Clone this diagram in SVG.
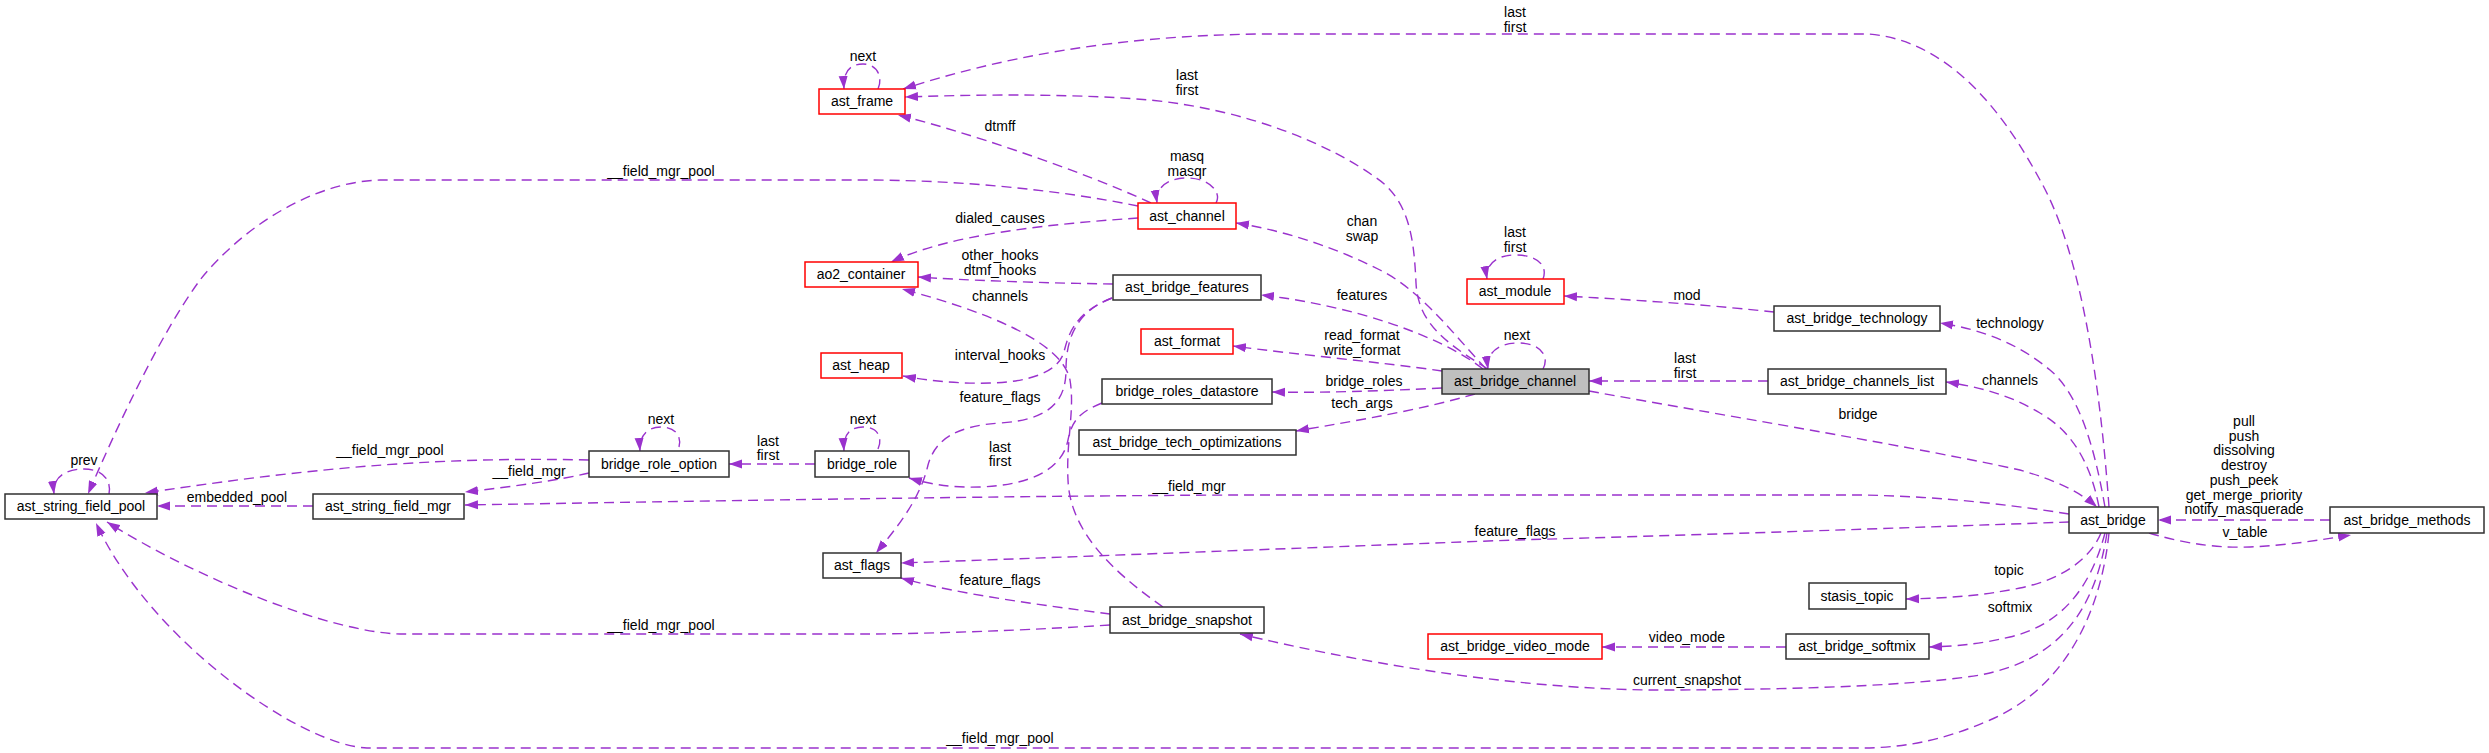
<svg xmlns="http://www.w3.org/2000/svg" width="2489" height="753" viewBox="0 0 2489 753">
<style>
text{font-family:"Liberation Sans",Arial,sans-serif;font-size:14px;fill:#000;text-anchor:middle}
.b{fill:#fff;stroke:#303030;stroke-width:1.5}
.r{fill:#fff;stroke:#ff0000;stroke-width:1.5}
.g{fill:#bfbfbf;stroke:#303030;stroke-width:1.5}
.e{fill:none;stroke:#9a32cd;stroke-width:1.4;stroke-dasharray:10,6;marker-end:url(#ah)}
</style>
<defs>
<marker id="ah" markerUnits="userSpaceOnUse" markerWidth="14" markerHeight="10" refX="13" refY="5" orient="auto">
<path d="M0,0.5 L13,5 L0,9.5 z" fill="#9a32cd" stroke="none"/>
</marker>
</defs>
<rect width="2489" height="753" fill="#fff"/>
<g id="connectors">
<path class="e" d="M878,89 C883,78 878,64 863,64 C848,64 843,74 844,89"/>
<text x="863" y="61">next</text>
<path class="e" d="M2109,507 C2100,380 2080,250 2040,180 C2005,115 1950,40 1868,34 L1260,34 C1110,36 1000,58 903,89"/>
<text x="1515" y="17">last</text><text x="1515" y="32">first</text>
<path class="e" d="M1488,369 C1440,340 1418,320 1416,283 C1414,240 1410,200 1375,177 C1330,145 1250,110 1150,100 C1080,94 990,94 905,97"/>
<text x="1187" y="80">last</text><text x="1187" y="95">first</text>
<path class="e" d="M1151,203 C1080,170 960,130 898,115"/>
<text x="1000" y="131">dtmff</text>
<path class="e" d="M1216,203 C1222,193 1210,178 1187,178 C1165,178 1155,190 1157,203"/>
<text x="1187" y="161">masq</text><text x="1187" y="176">masqr</text>
<path class="e" d="M1138,206 C1060,190 960,180 865,180 L380,180 C310,182 240,230 200,280 C160,335 120,420 88,494"/>
<text x="661" y="176">__field_mgr_pool</text>
<path class="e" d="M1138,218 C1050,224 950,234 891,262"/>
<text x="1000" y="223">dialed_causes</text>
<path class="e" d="M1113,284 C1040,283 960,280 918,277"/>
<text x="1000" y="260">other_hooks</text><text x="1000" y="275">dtmf_hooks</text>
<path class="e" d="M1163,607 C1110,570 1070,530 1068,480 C1066,440 1075,410 1070,380 C1062,340 980,310 902,289"/>
<text x="1000" y="301">channels</text>
<path class="e" d="M1112,298 C1075,312 1068,335 1064,352 C1058,372 1030,382 990,383 C960,384 930,381 903,376"/>
<text x="1000" y="360">interval_hooks</text>
<path class="e" d="M1112,298 C1075,312 1066,340 1066,370 C1066,405 1045,420 1000,423 C955,426 935,440 928,465 C920,500 895,530 876,553"/>
<text x="1000" y="402">feature_flags</text>
<path class="e" d="M1102,403 C1080,412 1072,420 1068,440 C1062,470 1030,485 980,487 C950,488 930,484 909,478"/>
<text x="1000" y="452">last</text><text x="1000" y="466">first</text>
<path class="e" d="M1483,369 C1440,335 1350,305 1261,295"/>
<text x="1362" y="300">features</text>
<path class="e" d="M1486,369 C1450,330 1420,290 1380,270 C1330,245 1280,230 1236,223"/>
<text x="1362" y="226">chan</text><text x="1362" y="241">swap</text>
<path class="e" d="M1442,371 C1380,362 1300,355 1233,346"/>
<text x="1362" y="340">read_format</text><text x="1362" y="355">write_format</text>
<path class="e" d="M1543,369 C1550,356 1540,343 1518,343 C1496,343 1486,355 1488,369"/>
<text x="1517" y="340">next</text>
<path class="e" d="M1543,279 C1548,266 1538,255 1515,255 C1494,255 1485,267 1487,279"/>
<text x="1515" y="237">last</text><text x="1515" y="252">first</text>
<path class="e" d="M1774,312 C1720,306 1640,300 1564,296"/>
<text x="1687" y="300">mod</text>
<path class="e" d="M1768,381 L1589,381"/>
<text x="1685" y="363">last</text><text x="1685" y="378">first</text>
<path class="e" d="M1442,388 C1380,391 1320,393 1272,392"/>
<text x="1364" y="386">bridge_roles</text>
<path class="e" d="M1475,394 C1420,410 1360,420 1296,431"/>
<text x="1362" y="408">tech_args</text>
<path class="e" d="M1589,391 C1750,420 1920,448 2020,470 C2055,480 2080,492 2097,507"/>
<text x="1858" y="419">bridge</text>
<path class="e" d="M2105,507 C2095,450 2080,395 2050,370 C2020,345 1985,330 1940,323"/>
<text x="2010" y="328">technology</text>
<path class="e" d="M2099,507 C2090,460 2070,430 2040,413 C2010,395 1980,387 1946,382"/>
<text x="2010" y="385">channels</text>
<path class="e" d="M2069,514 C2000,503 1930,496 1860,495 L1240,495 C1000,496 700,501 465,505"/>
<text x="1189" y="491">__field_mgr</text>
<path class="e" d="M589,473 C560,480 510,487 465,492"/>
<text x="529" y="476">__field_mgr</text>
<path class="e" d="M589,460 C450,457 330,465 145,493"/>
<text x="390" y="455">__field_mgr_pool</text>
<path class="e" d="M815,464 L729,464"/>
<text x="768" y="446">last</text><text x="768" y="460">first</text>
<path class="e" d="M878,449 C883,438 878,427 863,427 C848,427 843,437 844,451"/>
<text x="863" y="424">next</text>
<path class="e" d="M679,447 C682,436 675,427 661,427 C646,427 639,437 640,451"/>
<text x="661" y="424">next</text>
<path class="e" d="M313,506 L157,506"/>
<text x="237" y="502">embedded_pool</text>
<path class="e" d="M109,494 C112,478 100,469 84,469 C65,469 52,478 54,494"/>
<text x="84" y="465">prev</text>
<path class="e" d="M1110,625 C1000,632 900,634 865,634 L400,634 C330,632 200,580 107,522"/>
<text x="661" y="630">__field_mgr_pool</text>
<path class="e" d="M2109,533 C2100,620 2060,690 1990,720 C1940,742 1900,748 1860,748 L367,748 C300,745 150,640 96,523"/>
<text x="1000" y="743">__field_mgr_pool</text>
<path class="e" d="M2069,522 C1900,528 1700,535 1515,540 C1300,548 1100,556 901,563"/>
<text x="1515" y="536">feature_flags</text>
<path class="e" d="M1110,614 C1050,606 960,595 901,578"/>
<text x="1000" y="585">feature_flags</text>
<path class="e" d="M2101,533 C2090,560 2060,580 2020,588 C1980,596 1950,598 1906,599"/>
<text x="2009" y="575">topic</text>
<path class="e" d="M2105,533 C2090,590 2060,625 2010,637 C1980,644 1960,646 1929,647"/>
<text x="2010" y="612">softmix</text>
<path class="e" d="M1786,647 L1602,647"/>
<text x="1687" y="642">video_mode</text>
<path class="e" d="M2107,533 C2095,610 2060,660 1980,675 C1900,688 1750,690 1650,690 C1500,688 1350,660 1240,634"/>
<text x="1687" y="685">current_snapshot</text>
<path class="e" d="M2330,520 L2158,520"/>
<text x="2244" y="426">pull</text><text x="2244" y="441">push</text><text x="2244" y="455">dissolving</text><text x="2244" y="470">destroy</text><text x="2244" y="485">push_peek</text><text x="2244" y="500">get_merge_priority</text><text x="2244" y="514">notify_masquerade</text>
<path class="e" d="M2149,533 C2190,545 2220,548 2250,547 C2290,545 2320,540 2351,535"/>
<text x="2245" y="537">v_table</text>
</g>
<g id="ast_frame"><rect class="r" x="819" y="89" width="86" height="25"/><text x="862" y="106">ast_frame</text></g>
<g id="ast_channel"><rect class="r" x="1138" y="203" width="98" height="26"/><text x="1187" y="221">ast_channel</text></g>
<g id="ao2_container"><rect class="r" x="805" y="262" width="113" height="25"/><text x="861" y="279">ao2_container</text></g>
<g id="ast_bridge_features"><rect class="b" x="1113" y="275" width="148" height="25"/><text x="1187" y="292">ast_bridge_features</text></g>
<g id="ast_format"><rect class="r" x="1141" y="329" width="92" height="25"/><text x="1187" y="346">ast_format</text></g>
<g id="ast_heap"><rect class="r" x="821" y="353" width="81" height="25"/><text x="861" y="370">ast_heap</text></g>
<g id="ast_module"><rect class="r" x="1467" y="279" width="97" height="25"/><text x="1515" y="296">ast_module</text></g>
<g id="ast_bridge_technology"><rect class="b" x="1774" y="306" width="166" height="25"/><text x="1857" y="323">ast_bridge_technology</text></g>
<g id="ast_bridge_channel"><rect class="g" x="1442" y="369" width="147" height="25"/><text x="1515" y="386">ast_bridge_channel</text></g>
<g id="ast_bridge_channels_list"><rect class="b" x="1768" y="369" width="178" height="25"/><text x="1857" y="386">ast_bridge_channels_list</text></g>
<g id="bridge_roles_datastore"><rect class="b" x="1102" y="379" width="170" height="25"/><text x="1187" y="396">bridge_roles_datastore</text></g>
<g id="ast_bridge_tech_optimizations"><rect class="b" x="1079" y="430" width="217" height="25"/><text x="1187" y="447">ast_bridge_tech_optimizations</text></g>
<g id="bridge_role_option"><rect class="b" x="589" y="451" width="140" height="26"/><text x="659" y="469">bridge_role_option</text></g>
<g id="bridge_role"><rect class="b" x="815" y="451" width="94" height="26"/><text x="862" y="469">bridge_role</text></g>
<g id="ast_string_field_pool"><rect class="b" x="5" y="494" width="152" height="25"/><text x="81" y="511">ast_string_field_pool</text></g>
<g id="ast_string_field_mgr"><rect class="b" x="313" y="494" width="151" height="25"/><text x="388" y="511">ast_string_field_mgr</text></g>
<g id="ast_bridge"><rect class="b" x="2069" y="507" width="89" height="26"/><text x="2113" y="525">ast_bridge</text></g>
<g id="ast_bridge_methods"><rect class="b" x="2330" y="507" width="154" height="26"/><text x="2407" y="525">ast_bridge_methods</text></g>
<g id="ast_flags"><rect class="b" x="823" y="553" width="78" height="25"/><text x="862" y="570">ast_flags</text></g>
<g id="stasis_topic"><rect class="b" x="1809" y="583" width="97" height="26"/><text x="1857" y="601">stasis_topic</text></g>
<g id="ast_bridge_snapshot"><rect class="b" x="1110" y="607" width="154" height="26"/><text x="1187" y="625">ast_bridge_snapshot</text></g>
<g id="ast_bridge_video_mode"><rect class="r" x="1428" y="634" width="174" height="25"/><text x="1515" y="651">ast_bridge_video_mode</text></g>
<g id="ast_bridge_softmix"><rect class="b" x="1786" y="634" width="143" height="25"/><text x="1857" y="651">ast_bridge_softmix</text></g>
</svg>
